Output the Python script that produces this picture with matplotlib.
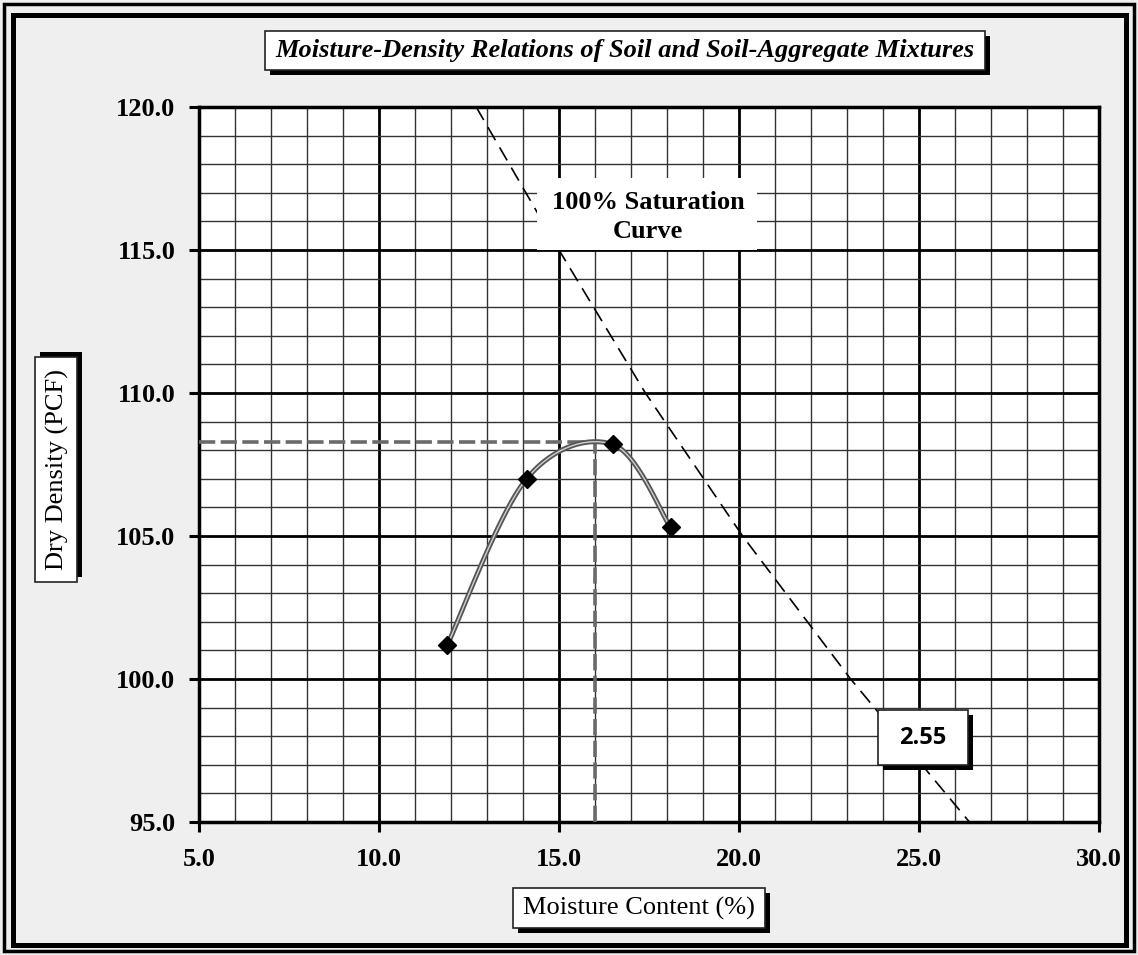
import numpy as np
import matplotlib.pyplot as plt
from matplotlib.patches import Rectangle
from matplotlib.ticker import MultipleLocator, FormatStrFormatter

# proctor test points
moisture = [11.9, 14.1, 16.5, 18.1]
dry_density = [101.2, 107.0, 108.2, 105.3]

# optimum moisture / max dry density
opt_moisture = 16.0
max_density = 108.3

# 100% saturation (zero air voids) line, Gs = 2.55
zav_moisture = [12.7, 15.0, 17.4, 20.1, 23.1, 26.4]
zav_density = [120.0, 115.0, 110.0, 105.0, 100.0, 95.0]
spec_gravity = "2.55"

W, H = 1138, 955
serif = ['Liberation Serif', 'DejaVu Serif']


def smooth(xs, ys, n=40):
    # cardinal spline through the points, like a spreadsheet "smoothed line"
    p = np.column_stack([xs, ys]).astype(float)
    p = np.vstack([p[0], p, p[-1]])
    out = []
    for i in range(1, len(p) - 2):
        p0, p1, p2, p3 = p[i - 1], p[i], p[i + 1], p[i + 2]
        c1 = p1 + (p2 - p0) / 6
        c2 = p2 - (p3 - p1) / 6
        t = np.linspace(0, 1, n)[:, None]
        out.append((1 - t) ** 3 * p1 + 3 * (1 - t) ** 2 * t * c1 + 3 * (1 - t) * t ** 2 * c2 + t ** 3 * p2)
    out = np.vstack(out)
    return out[:, 0], out[:, 1]


def fx(x):
    return x / W


def fy(y):
    return 1 - y / H


def shadow_box(fig, x0, y0, x1, y1, off=5, side='br'):
    # white box with a black drop shadow, pixel coords from top-left
    if side == 'br':
        sx, sy = off, off
    else:
        sx, sy = off, -off
    fig.patches.append(Rectangle((fx(x0 + sx), fy(y1 + sy)), fx(x1 - x0), (y1 - y0) / H,
                                 transform=fig.transFigure, facecolor='black', edgecolor='none', zorder=1))
    fig.patches.append(Rectangle((fx(x0), fy(y1)), fx(x1 - x0), (y1 - y0) / H,
                                 transform=fig.transFigure, facecolor='white', edgecolor='#222', lw=1.2, zorder=2))


fig = plt.figure(figsize=(W / 100, H / 100), dpi=100, facecolor='#efefef')
ax = fig.add_axes([fx(199), fy(822), fx(1099 - 199), (822 - 107) / H])
ax.set_facecolor('white')

ax.set_xlim(5, 30)
ax.set_ylim(95, 120)
ax.xaxis.set_major_locator(MultipleLocator(5))
ax.yaxis.set_major_locator(MultipleLocator(5))
ax.xaxis.set_minor_locator(MultipleLocator(1))
ax.yaxis.set_minor_locator(MultipleLocator(1))
ax.xaxis.set_major_formatter(FormatStrFormatter('%.1f'))
ax.yaxis.set_major_formatter(FormatStrFormatter('%.1f'))
ax.grid(which='minor', color='#333333', lw=1.0)
ax.grid(which='major', color='black', lw=2.0)
ax.set_axisbelow(True)
ax.tick_params(which='minor', length=0)
ax.tick_params(which='major', direction='out', length=7, width=2.2, pad=10, labelsize=19)
ax.tick_params(axis='x', pad=12)
for lab in ax.get_xticklabels() + ax.get_yticklabels():
    lab.set_family(serif)
    lab.set_fontweight('bold')
for s in ax.spines.values():
    s.set_linewidth(2.5)

# saturation line
ax.plot(zav_moisture, zav_density, color='black', lw=1.2, dashes=(9, 5), zorder=3)

# optimum lines
ax.plot([5, opt_moisture], [max_density, max_density], color='#6a6a6a', lw=2.6, dashes=(4.5, 1.5), zorder=3)
ax.plot([opt_moisture, opt_moisture], [95, max_density], color='#6a6a6a', lw=2.6, dashes=(4.5, 1.5), zorder=3)

# compaction curve
cx, cy = smooth(moisture, dry_density)
ax.plot(cx, cy, color='#555555', lw=3.6, zorder=4, solid_capstyle='round')
ax.plot(cx, cy, color='#cfcfcf', lw=1.0, zorder=5)
ax.plot(moisture, dry_density, 'D', color='black', ms=9, zorder=6)

# saturation label on a plain white patch
ax.add_patch(Rectangle((fx(537), fy(250)), fx(757 - 537), (250 - 178) / H,
                       transform=fig.transFigure, facecolor='white', edgecolor='none', zorder=7))
fig.text(fx(648), fy(217), '100% Saturation\nCurve', ha='center', va='center', fontsize=19,
         fontweight='bold', family=serif, linespacing=1.28, zorder=8)

# title
shadow_box(fig, 265, 31, 985, 70)
fig.text(fx(625), fy(51), 'Moisture-Density Relations of Soil and Soil-Aggregate Mixtures',
         ha='center', va='center', fontsize=19, fontweight='bold', style='italic', family=serif, zorder=3)

# y label
shadow_box(fig, 35, 357, 77, 582, side='tr')
fig.text(fx(57), fy(470), 'Dry Density (PCF)', rotation=90, ha='center', va='center',
         fontsize=19, family=serif, zorder=3)

# x label
shadow_box(fig, 513, 888, 765, 928)
fig.text(fx(639), fy(908), 'Moisture Content (%)', ha='center', va='center',
         fontsize=19, family=serif, zorder=3)

# specific gravity box
shadow_box(fig, 878, 710, 968, 765)
fig.text(fx(923), fy(738), spec_gravity, ha='center', va='center', fontsize=17,
         fontweight='bold', family=['Open Sans', 'DejaVu Sans'], zorder=3)

# double frame
fig.patches.append(Rectangle((fx(4), fy(951)), fx(W - 8), (H - 8) / H, transform=fig.transFigure,
                             fill=False, edgecolor='black', lw=2.5, zorder=0))
fig.patches.append(Rectangle((fx(12.5), fy(945)), fx(W - 25), (H - 25) / H, transform=fig.transFigure,
                             fill=False, edgecolor='black', lw=3.6, zorder=0))

fig.savefig('out.png', dpi=100, facecolor=fig.get_facecolor())
